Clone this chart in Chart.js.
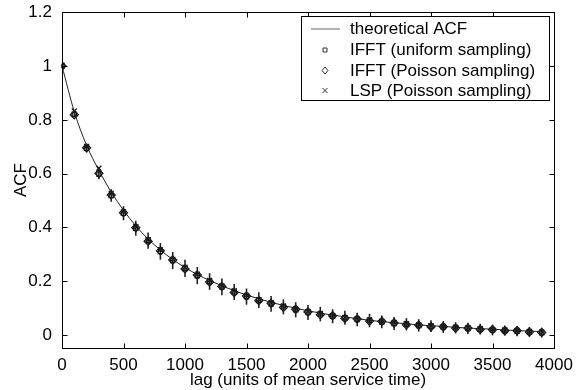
<!DOCTYPE html>
<html>
<head>
<meta charset="utf-8">
<script src="https://cdn.jsdelivr.net/npm/chart.js@4.4.0/dist/chart.umd.min.js"></script>
<style>
    html, body { margin: 0; padding: 0; background: #fff; }
</style>
</head>
<body>
<canvas id="myChart" width="580" height="390"></canvas>
<script>
// lag values (units of mean service time)
var lags = [0, 100, 200, 300, 400, 500, 600, 700, 800, 900,
    1000, 1100, 1200, 1300, 1400, 1500, 1600, 1700, 1800, 1900,
    2000, 2100, 2200, 2300, 2400, 2500, 2600, 2700, 2800, 2900,
    3000, 3100, 3200, 3300, 3400, 3500, 3600, 3700, 3800, 3900];

var theoretical = [1.0, 0.83, 0.705, 0.612, 0.532, 0.464, 0.406, 0.357, 0.316, 0.281,
    0.251, 0.225, 0.203, 0.183, 0.165, 0.149, 0.135, 0.122, 0.110, 0.100,
    0.090, 0.082, 0.074, 0.068, 0.061, 0.055, 0.050, 0.046, 0.042, 0.038,
    0.035, 0.032, 0.029, 0.026, 0.024, 0.022, 0.019, 0.017, 0.015, 0.013];

var ifftUniform = [1.0, 0.821, 0.694, 0.599, 0.519, 0.453, 0.397, 0.351, 0.311, 0.277,
    0.248, 0.221, 0.199, 0.179, 0.160, 0.143, 0.130, 0.116, 0.105, 0.094,
    0.084, 0.078, 0.070, 0.064, 0.058, 0.054, 0.049, 0.043, 0.040, 0.036,
    0.033, 0.030, 0.027, 0.025, 0.022, 0.019, 0.017, 0.015, 0.012, 0.009];

var ifftPoisson = [1.0, 0.819, 0.696, 0.601, 0.521, 0.455, 0.399, 0.349, 0.313, 0.279,
    0.246, 0.223, 0.197, 0.181, 0.158, 0.145, 0.128, 0.118, 0.103, 0.096,
    0.086, 0.076, 0.072, 0.062, 0.060, 0.052, 0.051, 0.045, 0.038, 0.037,
    0.031, 0.031, 0.026, 0.026, 0.021, 0.020, 0.016, 0.016, 0.011, 0.010];

var lspPoisson = [1.003, 0.833, 0.701, 0.620, 0.527, 0.458, 0.403, 0.355, 0.317, 0.281,
    0.252, 0.226, 0.203, 0.183, 0.165, 0.147, 0.132, 0.120, 0.108, 0.097,
    0.088, 0.080, 0.072, 0.066, 0.060, 0.056, 0.051, 0.047, 0.042, 0.038,
    0.035, 0.032, 0.029, 0.027, 0.024, 0.021, 0.019, 0.017, 0.014, 0.011];

var errBar = [0.008, 0.012, 0.015, 0.02, 0.023, 0.026, 0.028, 0.03, 0.031, 0.032,
    0.032, 0.032, 0.031, 0.031, 0.030, 0.030, 0.029, 0.029, 0.028, 0.028,
    0.028, 0.027, 0.026, 0.026, 0.025, 0.025, 0.024, 0.024, 0.023, 0.023,
    0.022, 0.022, 0.021, 0.021, 0.020, 0.020, 0.019, 0.019, 0.018, 0.018];

var xTicks = [0, 500, 1000, 1500, 2000, 2500, 3000, 3500, 4000];
var yTicks = [0, 0.2, 0.4, 0.6, 0.8, 1.0, 1.2];

var legendLabels = ['theoretical ACF', 'IFFT (uniform sampling)', 'IFFT (Poisson sampling)', 'LSP (Poisson sampling)'];

var FONT = 'Liberation Sans, Arial, Helvetica, sans-serif';
var FONT_SIZE = 17;

function toPoints(values) {
    return lags.map(function (x, i) { return { x: x, y: values[i] }; });
}

// vertical error bars through the sample points
var errorBarPlugin = {
    id: 'errorBars',
    beforeDatasetsDraw: function (chart) {
        var ctx = chart.ctx;
        var xs = chart.scales.x, ys = chart.scales.y;
        ctx.save();
        ctx.strokeStyle = '#222';
        ctx.lineWidth = 1.6;
        for (var i = 0; i < lags.length; i++) {
            var px = xs.getPixelForValue(lags[i]);
            ctx.beginPath();
            ctx.moveTo(px, ys.getPixelForValue(ifftUniform[i] + errBar[i]));
            ctx.lineTo(px, ys.getPixelForValue(ifftUniform[i] - errBar[i]));
            ctx.stroke();
        }
        ctx.restore();
    }
};

// box round the plot, inward ticks, and the legend
var framePlugin = {
    id: 'frame',
    afterDraw: function (chart) {
        var ctx = chart.ctx;
        var a = chart.chartArea;
        var xs = chart.scales.x, ys = chart.scales.y;
        var L = Math.round(a.left) + 0.5, R = Math.round(a.right) + 0.5;
        var T = Math.round(a.top) + 0.5, B = Math.round(a.bottom) + 0.5;
        ctx.save();
        ctx.strokeStyle = '#000';
        ctx.lineWidth = 1;
        ctx.strokeRect(L, T, R - L, B - T);

        ctx.beginPath();
        xTicks.forEach(function (v) {
            var px = Math.round(xs.getPixelForValue(v)) + 0.5;
            ctx.moveTo(px, B); ctx.lineTo(px, B - 5);
            ctx.moveTo(px, T); ctx.lineTo(px, T + 5);
        });
        yTicks.forEach(function (v) {
            var py = Math.round(ys.getPixelForValue(v)) + 0.5;
            ctx.moveTo(L, py); ctx.lineTo(L + 5, py);
            ctx.moveTo(R, py); ctx.lineTo(R - 5, py);
        });
        ctx.stroke();

        // legend
        var bx = 301.5, by = 16.5, bw = 248, bh = 84;
        ctx.fillStyle = '#fff';
        ctx.fillRect(bx, by, bw, bh);
        ctx.strokeRect(bx, by, bw, bh);

        var rowY = [29, 50, 70.5, 90.5];
        var mx = 325;
        ctx.strokeStyle = '#666';
        ctx.beginPath();
        ctx.moveTo(311, rowY[0]); ctx.lineTo(340, rowY[0]);
        ctx.stroke();

        ctx.strokeStyle = '#333';
        ctx.beginPath();
        ctx.rect(mx - 2, rowY[1] - 2, 4, 4);
        ctx.moveTo(mx, rowY[2] - 3.5); ctx.lineTo(mx + 3, rowY[2]);
        ctx.lineTo(mx, rowY[2] + 3.5); ctx.lineTo(mx - 3, rowY[2]); ctx.closePath();
        ctx.moveTo(mx - 2.5, rowY[3] - 2.5); ctx.lineTo(mx + 2.5, rowY[3] + 2.5);
        ctx.moveTo(mx + 2.5, rowY[3] - 2.5); ctx.lineTo(mx - 2.5, rowY[3] + 2.5);
        ctx.stroke();

        ctx.fillStyle = '#000';
        ctx.font = FONT_SIZE + 'px ' + FONT;
        ctx.textBaseline = 'middle';
        ctx.textAlign = 'left';
        legendLabels.forEach(function (t, i) {
            ctx.fillText(t, 350, rowY[i] + 0.5);
        });
        ctx.restore();
    }
};

var markerStyle = {
    borderColor: '#1a1a1a',
    backgroundColor: 'rgba(0,0,0,0)',
    borderWidth: 1.3
};

var ctx = document.getElementById('myChart').getContext('2d');
var myChart = new Chart(ctx, {
    type: 'scatter',
    data: {
        datasets: [{
            type: 'line',
            label: legendLabels[0],
            data: toPoints(theoretical),
            borderColor: '#222',
            borderWidth: 1,
            pointRadius: 0,
            cubicInterpolationMode: 'monotone',
            fill: false,
            order: 4
        }, Object.assign({
            label: legendLabels[1],
            data: toPoints(ifftUniform),
            pointStyle: 'rect',
            pointRadius: 3,
            order: 3
        }, markerStyle), Object.assign({
            label: legendLabels[2],
            data: toPoints(ifftPoisson),
            pointStyle: 'rectRot',
            pointRadius: 4,
            order: 2
        }, markerStyle), Object.assign({
            label: legendLabels[3],
            data: toPoints(lspPoisson),
            pointStyle: 'crossRot',
            pointRadius: 3.5,
            order: 1
        }, markerStyle)]
    },
    options: {
        responsive: false,
        animation: false,
        layout: { padding: { top: 12, right: 26, left: 0, bottom: 0 } },
        plugins: {
            legend: { display: false },
            tooltip: { enabled: false }
        },
        scales: {
            x: {
                type: 'linear',
                min: 0,
                max: 4000,
                afterFit: function (scale) { scale.height = 42; },
                afterBuildTicks: function (scale) {
                    scale.ticks = xTicks.map(function (v) { return { value: v }; });
                },
                grid: { display: false },
                border: { display: false },
                ticks: {
                    color: '#000',
                    padding: -1,
                    maxRotation: 0,
                    font: { family: FONT, size: FONT_SIZE },
                    callback: function (v) { return String(v); }
                },
                title: {
                    display: true,
                    text: 'lag (units of mean service time)',
                    color: '#000',
                    padding: { top: 0, bottom: -1 },
                    font: { family: FONT, size: FONT_SIZE }
                }
            },
            y: {
                type: 'linear',
                min: -0.048,
                max: 1.2,
                afterFit: function (scale) { scale.width = 62; },
                afterBuildTicks: function (scale) {
                    scale.ticks = yTicks.map(function (v) { return { value: v }; });
                },
                grid: { display: false },
                border: { display: false },
                ticks: {
                    color: '#000',
                    padding: 2,
                    font: { family: FONT, size: FONT_SIZE },
                    callback: function (v) { return String(Math.round(v * 10) / 10); }
                },
                title: {
                    display: true,
                    text: 'ACF',
                    color: '#000',
                    padding: { top: 11, bottom: 0 },
                    font: { family: FONT, size: FONT_SIZE }
                }
            }
        }
    },
    plugins: [errorBarPlugin, framePlugin]
});
</script>
</body>
</html>
